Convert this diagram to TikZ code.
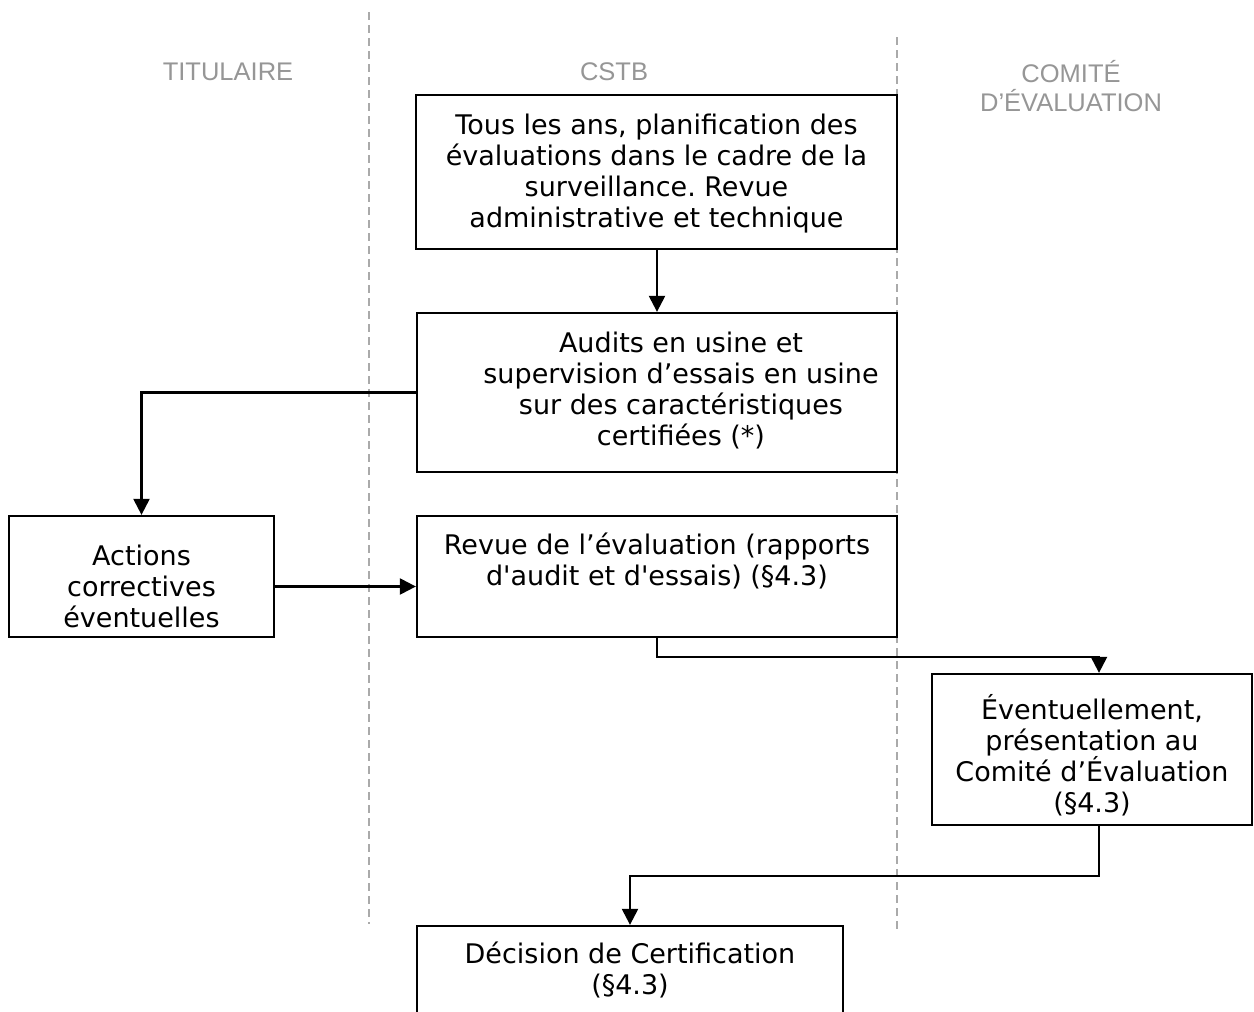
\documentclass[tikz,border=0pt]{standalone}
\usepackage{fontspec}
\usetikzlibrary{arrows.meta,calc}
\newfontfamily\boxfont{DejaVu Sans}
\newfontfamily\hdrfont{Liberation Sans}
\definecolor{hdrgray}{RGB}{150,150,150}
\definecolor{lanegray}{RGB}{170,170,170}
\frenchspacing
\begin{document}
\begin{tikzpicture}[x=1pt,y=-1pt,
  boxstyle/.style={draw=black, line width=2.3pt, rectangle, inner sep=0pt},
  txt/.style={font=\boxfont\fontsize{27}{31}\selectfont, align=center, inner sep=0pt},
  hdr/.style={font=\hdrfont\fontsize{25.5}{29}\selectfont, text=hdrgray, align=center, inner sep=0pt},
  lane/.style={draw=lanegray, line width=1.6pt, dash pattern=on 8pt off 5pt},
  arr/.style={draw=black, line width=2.3pt, -{Triangle[width=16pt,length=16pt]}}]
\clip (0,0) rectangle (1254,1012);
\fill[white] (0,0) rectangle (1254,1012);
% swim lanes
\coordinate (l1a) at (369,12);
\coordinate (l1b) at (369,924);
\coordinate (l2a) at (897,37);
\coordinate (l2b) at (897,930);
\draw[lane] (l1a) -- (l1b);
\draw[lane] (l2a) -- (l2b);
% headers
\node[hdr] (h1) at (228,72) {TITULAIRE};
\node[hdr] (h2) at (614,72) {CSTB};
\node[hdr] (h3) at (1071,86) {COMITÉ\\D’ÉVALUATION};
% boxes
\node[boxstyle, minimum width=481pt, minimum height=154pt] (b1) at (656.5,172) {};
\node[boxstyle, minimum width=480pt, minimum height=159pt] (b2) at (657,392.5) {};
\node[boxstyle, minimum width=265pt, minimum height=121pt] (b3) at (141.5,576.5) {};
\node[boxstyle, minimum width=480pt, minimum height=121pt] (b4) at (657,576.5) {};
\node[boxstyle, minimum width=320pt, minimum height=151pt] (b5) at (1092,749.5) {};
\node[boxstyle, minimum width=426pt, minimum height=104pt] (b6) at (630,978) {};
% texts
\node[txt] (t1) at (656.5,174) {Tous les ans, planification des\\évaluations dans le cadre de la\\surveillance. Revue\\administrative et technique};
\node[txt] (t2) at (681,391) {Audits en usine et\\supervision d’essais en usine\\sur des caractéristiques\\certifiées (*)};
\node[txt] (t3) at (141.5,586) {Actions\\correctives\\éventuelles};
\node[txt] (t4) at (657,561) {Revue de l’évaluation (rapports\\d\textquotesingle audit et d\textquotesingle essais) (§4.3)};
\node[txt] (t5) at (1092,755) {Éventuellement,\\présentation au\\Comité d’Évaluation\\(§4.3)};
\node[txt] (t6) at (630,970) {Décision de Certification\\(§4.3)};
% connectors
\draw[arr] (b1.south -| b2.north) -- (b2.north);
\draw[arr] (b2.west) -| (b3.north);
\draw[arr] ($(b3.east)+(0,10)$) -- ($(b4.west)+(0,10)$);
\draw[arr] (b4.south) -- ++(0,19) -| ($(b5.north)+(7,0)$);
\draw[arr] ($(b5.south)+(7,0)$) -- ++(0,50) -| (b6.north);
\end{tikzpicture}
\end{document}
